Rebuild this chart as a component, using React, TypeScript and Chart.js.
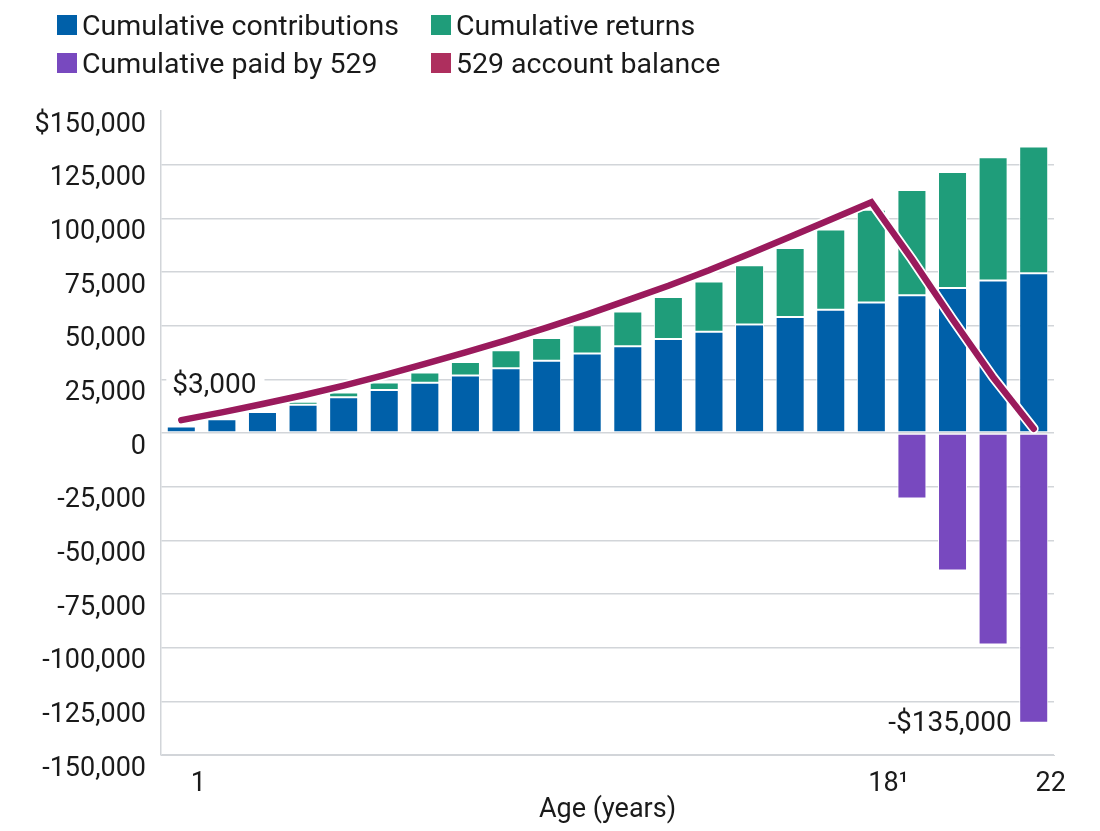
import React, { useEffect, useRef } from 'react';
import { Chart, registerables } from 'chart.js';

Chart.register(...registerables);

// ---- data ----
const ages = ['1', '2', '3', '4', '5', '6', '7', '8', '9', '10', '11', '12', '13', '14', '15', '16', '17', '18', '19', '20', '21', '22'];
const tickLabels = ['1', '', '', '', '', '', '', '', '', '', '', '', '', '', '', '', '', '18¹', '', '', '', '22'];
const yTickValues = [150000, 125000, 100000, 75000, 50000, 25000, 0, -25000, -50000, -75000, -100000, -125000, -150000];

const contributions = [3000, 6400, 9800, 13200, 16600, 20000, 23400, 26800, 30200, 33600, 37000, 40400, 43800, 47200, 50600, 54000, 57400, 60800, 64200, 67600, 71000, 74400];
const returns = [null, null, null, 1400, 2300, 3500, 4800, 6300, 8400, 10700, 13200, 16200, 19600, 23400, 27500, 32200, 37400, 43200, 49000, 54000, 57400, 59100];
const paidBy529 = [null, null, null, null, null, null, null, null, null, null, null, null, null, null, null, null, null, null, -30500, -64000, -98500, -135000];
const balance = [6000, 9600, 13500, 17600, 22100, 27000, 32200, 37600, 43200, 49100, 55300, 61900, 68600, 75800, 83500, 91400, 99500, 107500, 81000, 53000, 26000, 2000];

const seriesNames = ['Cumulative contributions', 'Cumulative returns', 'Cumulative paid by 529', '529 account balance'];
const annotationTexts = ['$3,000', '-$135,000'];
const annotationIndex = [0, 21];
const annotationValues = [22000, -135500];

const BLUE = '#0060A9';
const GREEN = '#1F9D7A';
const PURPLE = '#7849BF';
const LINE = '#9A1A5C';
const LEGEND_LINE = '#AE2F5E';
const GRID = '#D2D5D9';
const TEXT = '#1a1a1a';
const FONT = 'Roboto';

const annotatePlugin = {
  id: 'annotate',
  beforeDatasetsDraw(chart: any) {
    const { ctx, scales } = chart;
    const x = scales.x;
    const y = scales.y;
    ctx.save();
    ctx.font = `28px ${FONT}`;
    ctx.textBaseline = 'middle';
    const t0 = annotationTexts[0];
    const x0 = x.getPixelForValue(annotationIndex[0]) - 9;
    const y0 = y.getPixelForValue(annotationValues[0]);
    const w0 = ctx.measureText(t0).width;
    ctx.fillStyle = '#ffffff';
    ctx.fillRect(x0 - 6, y0 - 16, w0 + 14, 30);
    ctx.fillStyle = TEXT;
    ctx.textAlign = 'left';
    ctx.fillText(t0, x0, y0);
    ctx.restore();
  },
  afterDatasetsDraw(chart: any) {
    const { ctx, scales } = chart;
    const x = scales.x;
    const y = scales.y;
    ctx.save();
    ctx.font = `28px ${FONT}`;
    ctx.textBaseline = 'middle';
    ctx.fillStyle = TEXT;
    ctx.textAlign = 'right';
    const t1 = annotationTexts[1];
    const x1 = x.getPixelForValue(annotationIndex[1]) - 22;
    const y1 = y.getPixelForValue(annotationValues[1]);
    ctx.fillText(t1, x1, y1);
    ctx.restore();
  },
};

function formatY(v: number) {
  if (v === 150000) return '$150,000';
  return v.toLocaleString('en-US');
}

export default function App() {
  const canvasRef = useRef<HTMLCanvasElement | null>(null);

  useEffect(() => {
    if (!canvasRef.current) return;
    Chart.defaults.font.family = FONT;
    const barCommon = {
      type: 'bar' as const,
      stack: 'bars',
      borderColor: '#ffffff',
      borderWidth: 1,
      borderSkipped: false,
      barPercentage: 0.715,
      categoryPercentage: 1,
      order: 3,
    };
    const chart = new Chart(canvasRef.current, {
      type: 'bar',
      data: {
        labels: ages,
        datasets: [
          { ...barCommon, label: seriesNames[0], data: contributions, backgroundColor: BLUE },
          { ...barCommon, label: seriesNames[1], data: returns as any, backgroundColor: GREEN },
          { ...barCommon, label: seriesNames[2], data: paidBy529 as any, backgroundColor: PURPLE },
          {
            type: 'line' as const,
            label: 'halo',
            data: balance,
            stack: 'halo',
            borderColor: '#ffffff',
            borderWidth: 10,
            pointRadius: 0,
            tension: 0,
            borderJoinStyle: 'miter',
            borderCapStyle: 'round',
            order: 1,
          },
          {
            type: 'line' as const,
            label: seriesNames[3],
            data: balance,
            stack: 'line',
            borderColor: LINE,
            borderWidth: 6.5,
            pointRadius: 0,
            tension: 0,
            borderJoinStyle: 'miter',
            borderCapStyle: 'round',
            order: 0,
          },
        ] as any,
      },
      options: {
        animation: false,
        responsive: true,
        maintainAspectRatio: false,
        layout: { padding: { top: 111, right: 46, left: 0, bottom: 0 } },
        plugins: {
          legend: { display: false },
          tooltip: { enabled: false },
        },
        scales: {
          x: {
            stacked: true,
            offset: true,
            grid: { display: false },
            border: { display: true, color: GRID, width: 1 },
            ticks: {
              autoSkip: false,
              maxRotation: 0,
              padding: 5,
              labelOffset: 17,
              color: TEXT,
              font: { size: 27, family: FONT },
              callback: (_v: any, i: number) => tickLabels[i],
            },
            title: {
              display: true,
              text: 'Age (years)',
              color: TEXT,
              font: { size: 27, family: FONT },
              padding: { top: 0, bottom: 5 },
            },
            afterFit: (s: any) => {
              s.height = 76;
              s.paddingLeft = 0;
              s.paddingRight = 0;
            },
          },
          y: {
            stacked: true,
            min: -150000,
            max: 150000,
            afterBuildTicks: (s: any) => {
              s.ticks = yTickValues.map((v) => ({ value: v }));
            },
            grid: {
              color: (c: any) => (c.tick && c.tick.value === 150000 ? 'rgba(0,0,0,0)' : GRID),
              lineWidth: 1.5,
              drawTicks: false,
            },
            border: { display: true, color: GRID, width: 1.5 },
            ticks: {
              padding: 15,
              labelOffset: 14,
              color: TEXT,
              font: { size: 27, family: FONT },
              callback: (v: any) => formatY(Number(v)),
            },
            afterFit: (s: any) => {
              s.width = 161;
              s.paddingTop = 0;
              s.paddingBottom = 0;
            },
          },
        },
      } as any,
      plugins: [annotatePlugin],
    });
    return () => chart.destroy();
  }, []);

  const legendItems = [
    { name: seriesNames[0], color: BLUE, left: 57, top: 25 },
    { name: seriesNames[1], color: GREEN, left: 431, top: 25 },
    { name: seriesNames[2], color: PURPLE, left: 57, top: 63 },
    { name: seriesNames[3], color: LEGEND_LINE, left: 431, top: 63 },
  ];

  return (
    <div style={{ position: 'absolute', left: 0, top: 0, width: 1100, height: 831, background: '#ffffff', fontFamily: FONT }}>
      <div style={{ position: 'absolute', left: 0, top: 0, width: 1100, height: 831 }}>
        <canvas ref={canvasRef} />
      </div>
      {legendItems.map((it) => (
        <div
          key={it.name}
          style={{
            position: 'absolute',
            left: it.left,
            top: it.top - 18,
            height: 36,
            display: 'flex',
            alignItems: 'center',
            whiteSpace: 'nowrap',
            fontSize: 28.5,
            color: TEXT,
          }}
        >
          <span style={{ display: 'inline-block', width: 20, height: 20, background: it.color, marginRight: 5 }} />
          <span>{it.name}</span>
        </div>
      ))}
    </div>
  );
}
